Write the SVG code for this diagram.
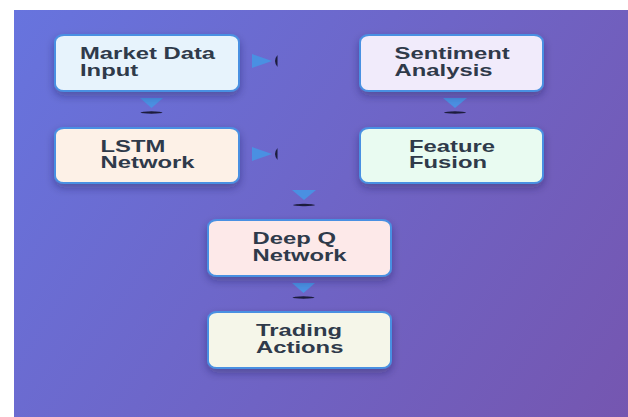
<svg xmlns="http://www.w3.org/2000/svg" width="628" height="417" viewBox="0 0 628 417">
  <defs>
    <linearGradient id="bg" gradientUnits="userSpaceOnUse" x1="14" y1="10" x2="628" y2="417">
      <stop offset="0" stop-color="#6774de"/>
      <stop offset="1" stop-color="#7556b0"/>
    </linearGradient>
    <filter id="shadow" x="-20%" y="-30%" width="140%" height="170%">
      <feDropShadow dx="0" dy="4" stdDeviation="4" flood-color="#1a1440" flood-opacity="0.35"/>
    </filter>
    <filter id="soft" x="-30%" y="-200%" width="160%" height="500%">
      <feGaussianBlur stdDeviation="0.7"/>
    </filter>
  </defs>
  <style>
    .box { stroke: #4a90e2; stroke-width: 2; filter: url(#shadow); }
    .label { font-family: "Liberation Sans", Arial, sans-serif; font-size: 16px; font-weight: bold; fill: #2f3a4a; }
    .head { fill: #4a90e2; }
    .tail { fill: #1c1c3c; filter: url(#soft); }
  </style>

  <!-- page background -->
  <rect x="0" y="0" width="628" height="417" fill="#ffffff"/>
  <rect x="14" y="10" width="614" height="407" fill="url(#bg)"/>

  <!-- connectors -->
  <g id="connectors">
    <!-- Market Data Input -> LSTM Network -->
    <polygon class="head" points="140,98 163,98 151.5,108"/>
    <ellipse class="tail" cx="151.5" cy="112.5" rx="11" ry="1.2"/>
    <!-- Sentiment Analysis -> Feature Fusion -->
    <polygon class="head" points="443,98 467,98 455,108"/>
    <ellipse class="tail" cx="455" cy="112.5" rx="11" ry="1.2"/>
    <!-- Market Data Input -> Sentiment Analysis -->
    <polygon class="head" points="252,54 272,61 252,68"/>
    <path class="tail" d="M277.5,55 Q272.5,61 277.5,67 Z"/>
    <!-- LSTM Network -> Feature Fusion -->
    <polygon class="head" points="252,147 272,154 252,161"/>
    <path class="tail" d="M277.5,148 Q272.5,154 277.5,160 Z"/>
    <!-- merged features -> Deep Q Network -->
    <polygon class="head" points="292,190 316,190 304,200"/>
    <ellipse class="tail" cx="304" cy="205" rx="11" ry="1.2"/>
    <!-- Deep Q Network -> Trading Actions -->
    <polygon class="head" points="292,283 315,283 303.5,293"/>
    <ellipse class="tail" cx="303.5" cy="297.5" rx="11" ry="1.2"/>
  </g>

  <!-- nodes -->
  <g id="market-data">
    <rect class="box" x="55" y="35" width="184" height="56" rx="9" ry="7" fill="#e7f3fc"/>
    <g transform="translate(80,0) scale(1.49,1)">
      <text class="label" x="0" y="59">Market Data</text>
      <text class="label" x="0" y="76">Input</text>
    </g>
  </g>

  <g id="sentiment">
    <rect class="box" x="360" y="35" width="183" height="56" rx="9" ry="7" fill="#f1ebfb"/>
    <g transform="translate(394.5,0) scale(1.49,1)">
      <text class="label" x="0" y="59.5">Sentiment</text>
      <text class="label" x="0" y="76.5">Analysis</text>
    </g>
  </g>

  <g id="lstm">
    <rect class="box" x="55" y="128" width="184" height="55" rx="9" ry="7" fill="#fdf1e7"/>
    <g transform="translate(100.5,0) scale(1.49,1)">
      <text class="label" x="0" y="152">LSTM</text>
      <text class="label" x="0" y="168.5">Network</text>
    </g>
  </g>

  <g id="feature-fusion">
    <rect class="box" x="360" y="128" width="183" height="55" rx="9" ry="7" fill="#e9fbf1"/>
    <g transform="translate(409,0) scale(1.49,1)">
      <text class="label" x="0" y="152">Feature</text>
      <text class="label" x="0" y="168.5">Fusion</text>
    </g>
  </g>

  <g id="deep-q">
    <rect class="box" x="208" y="220" width="183" height="56" rx="9" ry="7" fill="#fde9e9"/>
    <g transform="translate(252.5,0) scale(1.49,1)">
      <text class="label" x="0" y="244">Deep Q</text>
      <text class="label" x="0" y="261">Network</text>
    </g>
  </g>

  <g id="trading-actions">
    <rect class="box" x="208" y="312" width="183" height="56" rx="9" ry="7" fill="#f5f6e9"/>
    <g transform="translate(256,0) scale(1.49,1)">
      <text class="label" x="0" y="336.5">Trading</text>
      <text class="label" x="0" y="353">Actions</text>
    </g>
  </g>
</svg>
